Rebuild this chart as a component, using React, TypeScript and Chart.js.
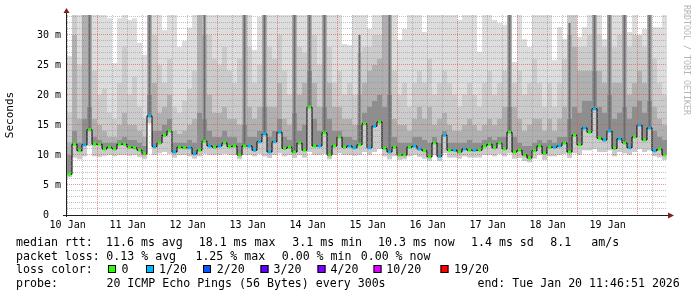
import React, { useEffect, useRef } from 'react';
import { Chart, registerables } from 'chart.js';

Chart.register(...registerables);

// time axis: hours since Jan 10 00:00
const START_HOUR = 11.75;
const END_HOUR = 251.75;
const STEP_HOURS = 2;

const DAY_LABELS = ['10 Jan', '11 Jan', '12 Jan', '13 Jan', '14 Jan', '15 Jan', '16 Jan', '17 Jan', '18 Jan', '19 Jan'];
const Y_MAX = 33.3333;
const Y_LABELS = ['0  ', '5 m', '10 m', '15 m', '20 m', '25 m', '30 m'];

// median rtt (ms) per 2h step
const MEDIAN = [
  6.8, 11.8, 10.7, 11.7, 14.2, 11.8, 11.8, 11.0, 11.3, 11.0,
  11.8, 11.8, 11.3, 11.2, 10.8, 10.2, 16.5, 11.4, 12.0, 13.3,
  14.0, 10.5, 11.3, 11.2, 11.2, 10.2, 10.8, 12.3, 11.5, 11.3,
  11.5, 12.0, 11.4, 11.5, 10.0, 11.5, 11.5, 10.8, 12.2, 13.5,
  10.5, 12.2, 13.8, 11.1, 11.3, 10.5, 12.0, 10.8, 18.0, 11.5,
  11.5, 13.7, 10.0, 11.5, 13.0, 11.3, 11.5, 11.2, 11.7, 15.2,
  11.2, 14.8, 15.5, 11.1, 10.5, 11.3, 10.0, 10.0, 11.3, 11.5,
  11.0, 10.7, 9.7, 12.0, 9.8, 13.3, 10.8, 10.8, 10.5, 11.0,
  10.8, 10.8, 10.8, 11.5, 11.8, 11.2, 12.0, 11.0, 13.8, 10.5,
  10.8, 10.0, 9.5, 10.7, 11.5, 10.3, 11.3, 11.3, 11.5, 12.0,
  10.5, 13.3, 11.7, 14.5, 13.8, 17.7, 12.8, 12.5, 14.0, 11.1,
  12.7, 12.0, 11.2, 13.0, 15.0, 12.5, 14.5, 10.7, 11.0, 10.0,
];

// lost pings out of 20 per step
const LOSS = [
  0, 0, 0, 1, 0, 0, 0, 0, 0, 0,
  0, 0, 0, 0, 0, 0, 1, 1, 0, 0,
  0, 1, 0, 0, 1, 1, 0, 0, 1, 0,
  1, 0, 0, 0, 0, 0, 1, 1, 1, 1,
  1, 1, 1, 0, 0, 0, 0, 0, 0, 0,
  1, 0, 0, 0, 0, 0, 1, 1, 0, 0,
  1, 1, 0, 0, 1, 0, 0, 0, 0, 1,
  1, 0, 0, 0, 1, 1, 0, 1, 0, 1,
  0, 1, 0, 0, 0, 0, 0, 0, 0, 0,
  0, 0, 0, 0, 0, 0, 0, 1, 1, 0,
  0, 0, 0, 1, 0, 1, 0, 1, 1, 0,
  1, 0, 1, 0, 1, 0, 1, 1, 0, 0,
];

// smoke: lowest ping
const SMOKE_BOTTOM = [
  6.3, 9.6, 9.3, 9.8, 11.5, 9.8, 9.7, 9.9, 10.0, 9.8,
  10.0, 10.0, 9.9, 10.0, 9.7, 9.4, 15.3, 10.0, 10.3, 10.5,
  10.2, 9.6, 10.0, 10.0, 9.8, 9.4, 9.8, 10.2, 10.0, 10.0,
  10.0, 10.2, 10.0, 10.0, 9.3, 10.0, 10.0, 9.8, 10.2, 9.8,
  9.5, 10.0, 10.3, 9.8, 10.0, 9.5, 10.0, 9.6, 10.5, 10.0,
  10.0, 10.2, 9.3, 10.0, 10.3, 10.0, 10.0, 9.9, 10.0, 10.5,
  10.0, 10.5, 11.0, 9.8, 9.3, 9.8, 9.2, 9.3, 9.8, 10.0,
  9.7, 9.4, 9.0, 10.0, 9.0, 10.3, 9.6, 9.6, 9.4, 9.8,
  9.6, 9.6, 9.6, 10.0, 10.0, 9.8, 10.2, 9.8, 10.3, 9.4,
  9.5, 9.0, 8.8, 9.4, 10.0, 9.2, 9.8, 9.8, 10.0, 10.2,
  9.5, 10.3, 10.0, 10.8, 10.8, 11.0, 10.5, 10.5, 10.8, 9.8,
  10.5, 10.3, 10.0, 10.5, 11.0, 10.5, 10.8, 9.8, 9.6, 9.2,
];

// smoke: highest ping (capped by graph top)
const SMOKE_TOP = [
  26.5, 34, 34, 34, 34, 34, 34, 34, 32.8, 25.3,
  32.8, 34, 32.5, 32.8, 28.7, 26.7, 34, 34, 34, 30.8,
  34, 34, 28.0, 29.0, 31.2, 34, 34, 34, 34, 34,
  34, 34, 34, 34, 34, 34, 34, 27.5, 33, 34,
  34, 34, 34, 34, 34, 34, 34, 34, 34, 34,
  34, 34, 34, 34, 34, 28.5, 28.3, 34, 34, 34,
  31.0, 34, 34, 34, 34, 34, 29.2, 31.0, 34, 34,
  34, 30.5, 34, 34, 34, 34, 34, 34, 32.5, 34,
  34, 34, 27.2, 34, 34, 32.5, 32.0, 31.7, 34, 25.5,
  34, 29.3, 28.0, 34, 34, 34, 34, 25.8, 31.3, 29.3,
  34, 34, 29.7, 31.3, 34, 34, 34, 29.3, 34, 34,
  34, 34, 30.5, 34, 30.0, 31.0, 34, 31.3, 31.3, 34,
];

// smoke: outer-middle ping band top
const SMOKE_P2 = [
  17, 34, 25, 34, 34, 24, 20, 21, 17, 16,
  22, 28, 20, 23, 18, 16, 34, 30, 25, 22,
  26, 18, 17, 19, 21, 24, 34, 34, 30, 26,
  25, 28, 24, 22, 26, 34, 28, 22, 25, 34,
  28, 26, 30, 24, 20, 34, 28, 27, 34, 30,
  25, 34, 28, 22, 24, 20, 22, 20, 27, 28,
  28, 30, 30, 34, 34, 24, 20, 22, 18, 22,
  24, 22, 26, 20, 22, 24, 22, 20, 18, 20,
  22, 20, 18, 22, 24, 20, 22, 24, 34, 22,
  24, 20, 22, 26, 22, 18, 22, 18, 22, 26,
  34, 34, 28, 28, 30, 34, 30, 28, 34, 28,
  30, 34, 28, 30, 30, 28, 34, 26, 22, 20,
];

// smoke: inner-middle ping band top
const SMOKE_P3 = [
  12, 30, 16, 34, 34, 16, 15, 14, 13, 13,
  15, 17, 15, 15, 14, 13, 34, 22, 17, 18,
  20, 14, 13.5, 14, 15, 16, 34, 30, 20, 17,
  17, 18, 16, 16, 15, 34, 18, 16, 18, 34,
  18, 18, 22, 16, 15, 34, 20, 22, 34, 22,
  18, 34, 22, 18, 18, 16, 16, 15, 20, 22,
  24, 25, 26, 34, 34, 16, 15, 15, 14, 16,
  18, 16, 18, 15, 16, 17, 15, 14, 14, 15,
  16, 15, 14, 15, 16, 15, 16, 18, 34, 18,
  16, 14, 15, 16, 16, 14, 16, 14, 16, 18,
  30, 28, 24, 24, 24, 34, 24, 22, 34, 22,
  22, 34, 20, 22, 24, 22, 34, 18, 16, 15,
];

// smoke: core band top
const SMOKE_P4 = [
  10, 14, 12, 16, 18, 13, 12.5, 12, 12, 12,
  12.5, 13, 12.5, 12.5, 12, 11.5, 20, 14, 14, 15,
  16, 12, 12, 12, 12.5, 12, 17, 16, 14, 13,
  13, 14, 13, 13, 12, 15, 13, 13, 14, 18,
  13, 14, 16, 13, 12.5, 17, 14, 15, 24, 16,
  14, 18, 16, 14, 14, 13, 13, 12.5, 15, 17,
  18, 19, 20, 18, 20, 13, 12, 12, 12, 13,
  13, 12.5, 12, 13, 12, 14, 12, 12, 12, 12,
  12.5, 12, 12, 12.5, 13, 12.5, 13, 13, 18, 13,
  12, 11.5, 11.5, 12, 12.5, 12, 12.5, 12, 13, 13,
  16, 18, 17, 19, 19, 24, 18, 17, 20, 16,
  17, 18, 16, 18, 19, 17, 19, 14, 13, 12.5,
];

// narrow dark streaks (top of streak, 0 = none)
const SMOKE_STREAK = [
  0, 0, 0, 0, 34, 0, 0, 0, 0, 0,
  0, 0, 0, 0, 0, 0, 34, 0, 0, 0,
  0, 0, 0, 0, 0, 0, 0, 34, 0, 0,
  0, 0, 0, 0, 0, 34, 0, 0, 0, 34,
  0, 0, 0, 0, 0, 34, 0, 0, 34, 0,
  0, 34, 0, 0, 0, 0, 0, 0, 30, 0,
  0, 0, 0, 0, 34, 0, 0, 0, 0, 0,
  0, 0, 0, 0, 0, 0, 0, 0, 0, 0,
  0, 0, 0, 0, 0, 0, 0, 0, 34, 0,
  0, 0, 0, 0, 0, 0, 0, 0, 0, 0,
  32, 0, 0, 0, 0, 34, 0, 0, 34, 0,
  0, 34, 0, 0, 0, 0, 34, 0, 0, 0,
];

const LOSS_LEVELS = [0, 1, 2, 3, 4, 10, 19];
const LOSS_LABELS = ['0', '1/20', '2/20', '3/20', '4/20', '10/20', '19/20'];
const LOSS_COLORS = ['#26ff00', '#00b8ff', '#0059ff', '#5e00ff', '#7e00ff', '#dd00ff', '#ff0000'];

const SMOKE_COLORS = ['#dddddd', '#cbcbcb', '#b0b0b0', '#8e8e8e', '#6c6c6c'];

const LEGEND_ROW1: [string, number][] = [
  ['median rtt:', 16], ['11.6 ms avg', 106], ['18.1 ms max', 198.7], ['3.1 ms min', 292.3],
  ['10.3 ms now', 378], ['1.4 ms sd', 471], ['8.1', 550.2], ['am/s', 591.2],
];
const LEGEND_ROW2: [string, number][] = [
  ['packet loss:', 16], ['0.13 % avg', 106.3], ['1.25 % max', 195.4], ['0.00 % min', 281.7], ['0.00 % now', 360.7],
];
const LEGEND_ROW4: [string, number][] = [
  ['probe:', 16], ['20 ICMP Echo Pings (56 Bytes) every 300s', 106.4], ['end: Tue Jan 20 11:46:51 2026', 477.4],
];
const SWATCH_X = [108, 146, 203, 260.5, 317.5, 373.5, 440.5];
const SWATCH_TEXT_X = [121.5, 159, 216.8, 273.6, 330.6, 386.3, 454];
const WATERMARK = 'RRDTOOL / TOBI OETIKER';

const MONO = "'DejaVu Sans Mono', monospace";
const MINOR = 'rgba(143,143,143,0.55)';
const MAJOR = 'rgba(222,79,79,0.6)';

const decorPlugin = {
  id: 'rrdDecor',
  afterDraw(chart: any) {
    const { ctx, chartArea: a } = chart;
    ctx.save();
    // axes
    ctx.strokeStyle = '#1f1f1f';
    ctx.lineWidth = 1;
    ctx.beginPath();
    ctx.moveTo(a.left - 0.5, a.bottom + 2);
    ctx.lineTo(a.left - 0.5, a.top - 4);
    ctx.moveTo(a.left - 4, a.bottom + 0.5);
    ctx.lineTo(a.right + 2, a.bottom + 0.5);
    ctx.stroke();
    // arrows
    ctx.fillStyle = '#801f1f';
    ctx.beginPath();
    ctx.moveTo(a.left - 3.5, a.top - 2);
    ctx.lineTo(a.left + 2.5, a.top - 2);
    ctx.lineTo(a.left - 0.5, a.top - 7);
    ctx.closePath();
    ctx.fill();
    ctx.beginPath();
    ctx.moveTo(a.right + 1, a.bottom - 2.5);
    ctx.lineTo(a.right + 1, a.bottom + 3.5);
    ctx.lineTo(a.right + 7, a.bottom + 0.5);
    ctx.closePath();
    ctx.fill();

    // legend
    ctx.fillStyle = '#000';
    ctx.font = "11.6px 'DejaVu Sans Mono'";
    ctx.textBaseline = 'alphabetic';
    ctx.textAlign = 'left';
    LEGEND_ROW1.forEach(([t, x]) => ctx.fillText(t, x, 246));
    LEGEND_ROW2.forEach(([t, x]) => ctx.fillText(t, x, 260));
    ctx.fillText('loss color:', 16, 273);
    LOSS_LABELS.forEach((t, i) => {
      ctx.fillStyle = LOSS_COLORS[i];
      ctx.fillRect(SWATCH_X[i], 265, 8, 8);
      ctx.strokeStyle = '#000';
      ctx.strokeRect(SWATCH_X[i] + 0.5, 265.5, 7, 7);
      ctx.fillStyle = '#000';
      ctx.fillText(t, SWATCH_TEXT_X[i], 273);
    });
    LEGEND_ROW4.forEach(([t, x]) => ctx.fillText(t, x, 287));

    // watermark
    ctx.save();
    ctx.translate(684, 5);
    ctx.rotate(Math.PI / 2);
    ctx.font = "8.3px 'DejaVu Sans Mono'";
    ctx.fillStyle = '#b4b4b4';
    ctx.fillText(WATERMARK, 0, 0);
    ctx.restore();
    ctx.restore();
  },
};

export default function App() {
  const ref = useRef<HTMLCanvasElement>(null);

  useEffect(() => {
    document.body.style.margin = '0';
    const canvas = ref.current;
    if (!canvas) return;

    const xs = MEDIAN.map((_, i) => START_HOUR + STEP_HOURS * (i + 0.5));
    const band = (lo: number[], hi: number[]) => xs.map((x, i) => ({ x, y: [lo[i], hi[i]] }));
    const lossColor = (l: number) => {
      let c = LOSS_COLORS[0];
      LOSS_LEVELS.forEach((lv, k) => { if (l >= lv) c = LOSS_COLORS[k]; });
      return c;
    };
    const barCommon = {
      type: 'bar' as const,
      barPercentage: 1,
      categoryPercentage: 1,
      grouped: false,
      borderWidth: 0,
      inflateAmount: 0,
      clip: 0,
    };
    const xTicks: number[] = [];
    for (let h = 12; h <= END_HOUR; h += 6) xTicks.push(h);
    const yTicks: number[] = [];
    for (let v = 0; v <= Y_MAX; v += 1) yTicks.push(v);

    const streakData = xs
      .map((x, i) => ({ x, y: [MEDIAN[i], SMOKE_STREAK[i]] }))
      .filter((_, i) => SMOKE_STREAK[i] > 0);

    const chart = new Chart(canvas, {
      type: 'bar',
      data: {
        datasets: [
          { ...barCommon, data: band(SMOKE_BOTTOM, SMOKE_TOP), backgroundColor: SMOKE_COLORS[0], order: 10 },
          { ...barCommon, data: band(SMOKE_BOTTOM, SMOKE_P2), backgroundColor: SMOKE_COLORS[1], order: 9 },
          { ...barCommon, data: band(MEDIAN, SMOKE_P3), backgroundColor: SMOKE_COLORS[2], order: 8 },
          { ...barCommon, data: band(MEDIAN, SMOKE_P4), backgroundColor: SMOKE_COLORS[3], order: 7 },
          { ...barCommon, data: streakData, barThickness: 2, backgroundColor: SMOKE_COLORS[4], order: 6 },
          {
            type: 'line',
            data: xs.map((x, i) => ({ x, y: MEDIAN[i] })),
            borderColor: '#000000',
            borderWidth: 1,
            stepped: 'middle',
            pointRadius: 0,
            fill: false,
            order: 2,
            clip: 0,
          } as any,
          {
            ...barCommon,
            barPercentage: 0.6,
            data: xs.map((x, i) => ({ x, y: [MEDIAN[i] - 0.25, MEDIAN[i] + 0.25] })),
            backgroundColor: LOSS.map(lossColor),
            order: 1,
          },
        ] as any,
      },
      options: {
        responsive: false,
        animation: false,
        events: [],
        layout: { padding: { left: 0, right: 30, top: 15, bottom: 62 } },
        plugins: { legend: { display: false }, tooltip: { enabled: false } },
        scales: {
          x: {
            type: 'linear',
            min: START_HOUR,
            max: END_HOUR,
            offset: false,
            afterBuildTicks: (s: any) => { s.ticks = xTicks.map((v) => ({ value: v })); },
            afterFit: (s: any) => { s.height = 20; },
            grid: {
              offset: false,
              z: 1,
              drawTicks: false,
              lineWidth: 1,
              color: (c: any) => (c.tick && c.tick.value % 24 === 0 ? MAJOR : MINOR),
            },
            border: { display: false, dash: [1, 1] },
            ticks: {
              autoSkip: false,
              maxRotation: 0,
              padding: 4,
              color: '#000',
              font: { family: MONO, size: 10 },
              callback: (v: any) => {
                const k = (Number(v) - 12) / 24;
                return Number.isInteger(k) && k >= 0 && k < DAY_LABELS.length ? DAY_LABELS[k] : '';
              },
            },
          },
          y: {
            type: 'linear',
            min: 0,
            max: Y_MAX,
            afterBuildTicks: (s: any) => { s.ticks = yTicks.map((v) => ({ value: v })); },
            afterFit: (s: any) => { s.width = 67; },
            grid: {
              z: 1,
              drawTicks: false,
              lineWidth: 1,
              color: (c: any) => (c.tick && c.tick.value % 5 === 0 ? MAJOR : MINOR),
            },
            border: { display: false, dash: [1, 1] },
            title: {
              display: true,
              text: 'Seconds',
              color: '#000',
              font: { family: MONO, size: 11 },
              padding: { top: 4, bottom: 0 },
            },
            ticks: {
              autoSkip: false,
              padding: 6,
              color: '#000',
              font: { family: MONO, size: 10 },
              callback: (v: any) => {
                const n = Number(v);
                return n % 5 === 0 ? Y_LABELS[n / 5] : '';
              },
            },
          },
        },
      } as any,
      plugins: [decorPlugin],
    });

    return () => chart.destroy();
  }, []);

  return <canvas ref={ref} width={697} height={297} style={{ display: 'block' }} />;
}
